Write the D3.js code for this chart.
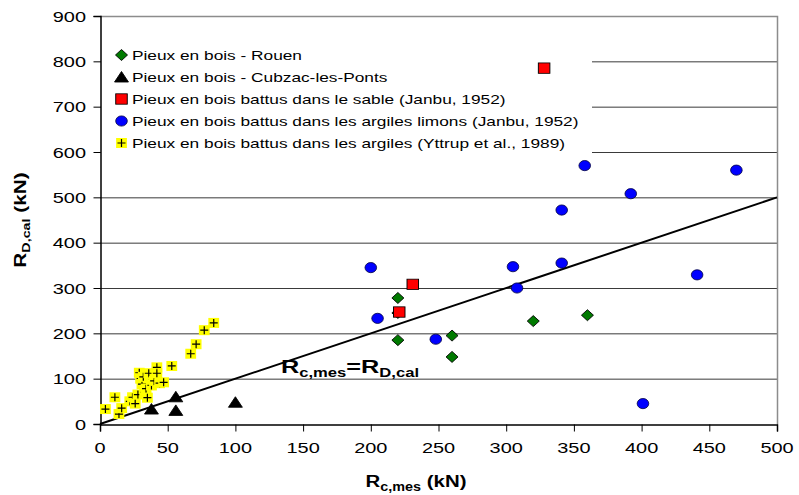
<!DOCTYPE html>
<html>
<head>
<meta charset="utf-8">
<script src="https://cdn.jsdelivr.net/npm/d3@7/dist/d3.min.js"></script>
<style>
  html, body { margin: 0; padding: 0; background: #fff; }
  svg { display: block; font-family: "Liberation Sans", Arial, sans-serif; }
</style>
</head>
<body>
<svg id="chart" width="799" height="495"></svg>
<script>
// ---- data: [R_c,mes (kN), R_D,cal (kN)] ----
const rouen = [[220, 278], [220, 245], [220, 185], [260, 195], [260, 148], [320, 227], [360, 240]];
const cubzac = [[38, 33], [56, 60], [56, 30], [100, 48]];
const janbuSable = [[328, 785], [231, 308], [221, 247]];
const janbuArgiles = [[200, 345], [358, 570], [470, 560], [392, 508], [341, 472], [305, 347],
  [341, 355], [441, 329], [308, 300], [205, 233], [248, 187], [401, 45]];
const yttrup = [[4, 33], [11, 59], [14, 22], [16, 35], [22, 50], [24, 59], [26, 45], [28, 65],
  [29, 113], [30, 100], [31, 88], [32, 104], [33, 70], [34, 78], [35, 58], [36, 112], [38, 85],
  [40, 95], [42, 125], [42, 112], [44, 90], [47, 92], [53, 128], [67, 155], [71, 176], [77, 207], [84, 223]];
const seriesNames = [
  "Pieux en bois - Rouen",
  "Pieux en bois - Cubzac-les-Ponts",
  "Pieux en bois battus dans le sable (Janbu, 1952)",
  "Pieux en bois battus dans les argiles limons (Janbu, 1952)",
  "Pieux en bois battus dans les argiles (Yttrup et al., 1989)"
];
const xTicks = [0, 50, 100, 150, 200, 250, 300, 350, 400, 450, 500];
const yTicks = [0, 100, 200, 300, 400, 500, 600, 700, 800, 900];
const identityLine = [[0, 0], [500, 500]];

// ---- layout ----
const SX = 1.33;                // horizontal stretch of the text
const svg = d3.select("#chart");
const x = d3.scaleLinear().domain([0, 500]).range([100, 777]);
const y = d3.scaleLinear().domain([0, 900]).range([424, 16]);

// places a text horizontally stretched about its anchor point
function placed(sel, px, py, sx = SX) {
  return sel.attr("transform", `translate(${px},${py}) scale(${sx},1)`);
}

// horizontal grid lines
svg.append("g").selectAll("line").data(yTicks.filter(v => v > 0 && v < 900)).join("line")
  .attr("x1", x(0)).attr("x2", x(500))
  .attr("y1", d => y(d) + 0.5).attr("y2", d => y(d) + 0.5)
  .attr("stroke", "#3a3a3a").attr("stroke-width", 1);

// plot frame (top and right in grey)
svg.append("path")
  .attr("d", `M${x(0)},${y(900) + 0.5}H${x(500) + 0.5}V${y(0)}`)
  .attr("fill", "none").attr("stroke", "#8c8c8c").attr("stroke-width", 1.5);

// legend background hides the grid behind it
svg.append("rect").attr("x", 101).attr("y", 24).attr("width", 491).attr("height", 134).attr("fill", "#fff");

// axes
const xAxis = d3.axisBottom(x).tickValues(xTicks).tickSize(7).tickFormat("");
const yAxis = d3.axisLeft(y).tickValues(yTicks).tickSize(7).tickFormat("");
const gx = svg.append("g").attr("transform", `translate(0,${y(0) + 0.5})`).call(xAxis);
const gy = svg.append("g").attr("transform", `translate(${x(0) + 0.5},0)`).call(yAxis);
[gx, gy].forEach(g => {
  g.select(".domain").attr("stroke", "#000").attr("stroke-width", 1.5);
  g.selectAll(".tick line").attr("stroke", "#000");
});

// tick labels
svg.append("g").selectAll("text").data(xTicks).join("text")
  .each(function (d) { placed(d3.select(this), x(d), 453); })
  .attr("text-anchor", "middle").attr("font-size", 15).attr("fill", "#000")
  .text(d => d);
svg.append("g").selectAll("text").data(yTicks).join("text")
  .each(function (d) { placed(d3.select(this), 86, y(d) + 5.5); })
  .attr("text-anchor", "end").attr("font-size", 15).attr("fill", "#000")
  .text(d => d);

// axis titles
const xt = placed(svg.append("text"), 416, 487, 1.2)
  .attr("text-anchor", "middle").attr("font-weight", "bold").attr("font-size", 17);
xt.append("tspan").text("R");
xt.append("tspan").attr("font-size", 12).attr("dy", 4).text("c,mes");
xt.append("tspan").attr("dy", -4).text(" (kN)");

const yt = svg.append("text")
  .attr("transform", "translate(26,220) scale(1,1.3) rotate(-90)")
  .attr("text-anchor", "middle").attr("font-weight", "bold").attr("font-size", 16);
yt.append("tspan").text("R");
yt.append("tspan").attr("font-size", 11).attr("dy", 4).text("D,cal");
yt.append("tspan").attr("dy", -4).text(" (kN)");

// identity line R_c,mes = R_D,cal
svg.append("path")
  .attr("d", d3.line().x(d => x(d[0])).y(d => y(d[1]))(identityLine))
  .attr("fill", "none").attr("stroke", "#000").attr("stroke-width", 2);

const lt = placed(svg.append("text"), 281, 373)
  .attr("font-weight", "bold").attr("font-size", 19).attr("fill", "#000");
lt.append("tspan").text("R");
lt.append("tspan").attr("font-size", 12.5).attr("dy", 4).text("c,mes");
lt.append("tspan").attr("dy", -4).text("=R");
lt.append("tspan").attr("font-size", 12.5).attr("dy", 4).text("D,cal");

// ---- markers ----
const MS = 1.2;   // markers are slightly wider than tall
function marker(g, type) {
  if (type === 0) {
    g.append("path").attr("d", "M0,-5.5L5,0L0,5.5L-5,0Z")
      .attr("transform", `scale(${MS},1)`)
      .attr("fill", "#007a00").attr("stroke", "#000").attr("stroke-width", 0.8);
  } else if (type === 1) {
    g.append("path").attr("d", "M0,-5.5L5.8,5L-5.8,5Z")
      .attr("transform", `scale(${MS},1)`)
      .attr("fill", "#000").attr("stroke", "#000").attr("stroke-width", 0.8);
  } else if (type === 2) {
    g.append("rect").attr("x", -4.8).attr("y", -5.2).attr("width", 9.6).attr("height", 10.4)
      .attr("transform", `scale(${MS},1)`)
      .attr("fill", "#ff0000").attr("stroke", "#000").attr("stroke-width", 0.8);
  } else if (type === 3) {
    g.append("ellipse").attr("rx", 5.8).attr("ry", 5.1)
      .attr("fill", "#0000ff").attr("stroke", "#000040").attr("stroke-width", 0.8);
  } else {
    g.append("rect").attr("x", -5.4).attr("y", -5).attr("width", 10.8).attr("height", 10)
      .attr("fill", "#ffff00");
    g.append("path").attr("d", "M-4,0H4M0,-4V4")
      .attr("stroke", "#000").attr("stroke-width", 1.2);
  }
}

const allSeries = [rouen, cubzac, janbuSable, janbuArgiles, yttrup];
// draw the yellow cluster first, then the other series on top
[4, 1, 0, 3, 2].forEach(si => {
  svg.append("g").selectAll("g").data(allSeries[si]).join("g")
    .attr("transform", d => `translate(${x(d[0])},${y(d[1])})`)
    .each(function () { marker(d3.select(this), si); });
});

// legend entries
seriesNames.forEach((name, i) => {
  const cy = 55 + i * 22;
  const g = svg.append("g").attr("transform", `translate(121.5,${cy})`);
  marker(g, i);
  placed(svg.append("text"), 132, cy + 5)
    .attr("font-size", 13).attr("fill", "#000").text(name);
});
</script>
</body>
</html>
